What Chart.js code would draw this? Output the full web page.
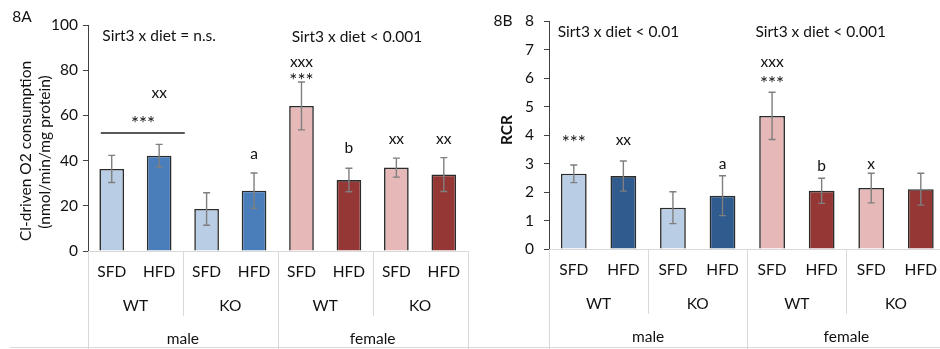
<!DOCTYPE html>
<html>
<head>
<meta charset="utf-8">
<script src="https://cdn.jsdelivr.net/npm/chart.js@4.4.1/dist/chart.umd.min.js"></script>
<style>
  html, body { margin: 0; padding: 0; background: #fff; overflow: hidden; }
  body { width: 940px; height: 349px; position: relative; }
  .box { position: absolute; top: 0; height: 349px; }
  #boxA { left: 0; width: 472px; }
  #boxB { left: 470px; width: 479px; }
</style>
</head>
<body>
<div class="box" id="boxA"><canvas id="chartA"></canvas></div>
<div class="box" id="boxB"><canvas id="chartB"></canvas></div>
<script>
// categories (three-level axis)
const diets = ['SFD', 'HFD', 'SFD', 'HFD', 'SFD', 'HFD', 'SFD', 'HFD'];
const genotypes = ['WT', 'KO', 'WT', 'KO'];
const sexes = ['male', 'female'];

// 8A: CI-driven O2 consumption
const cdValues = [36.3, 42.2, 18.6, 26.7, 64.2, 31.4, 36.9, 33.8];
const cdErrors = [6.0, 5.0, 7.2, 7.8, 10.6, 5.2, 4.2, 7.5];
const cdTicks = [0, 20, 40, 60, 80, 100];
// [category index, y value, text]
const cdMarks = [[0.66, 58, '***'], [1, 70, 'xx'], [3, 43, 'a'], [4, 83.6, 'xxx'], [4, 77, '***'],
                 [5, 45.6, 'b'], [6, 49.6, 'xx'], [7, 49.6, 'xx']];
const cdNotes = [[1.0, 95, 'Sirt3 x diet = n.s.'], [5.17, 94.7, 'Sirt3 x diet < 0.001']];
const cdBracket = [-0.23, 1.54, 52.2]; // from index, to index, y value

// 8B: RCR
const rcrValues = [2.64, 2.56, 1.45, 1.87, 4.67, 2.04, 2.14, 2.10];
const rcrErrors = [0.31, 0.53, 0.56, 0.70, 0.83, 0.44, 0.52, 0.56];
const rcrTicks = [0, 1, 2, 3, 4, 5, 6, 7, 8];
const rcrMarks = [[0, 3.86, '***'], [1, 3.82, 'xx'], [3, 2.98, 'a'], [4, 6.56, 'xxx'], [4, 5.93, '***'],
                  [5, 2.91, 'b'], [6, 2.98, 'x']];
const rcrNotes = [[0.9, 7.61, 'Sirt3 x diet < 0.01'], [4.98, 7.61, 'Sirt3 x diet < 0.001']];

const FONT = 'Lato';
const SIZE = 15.5;
const TEXT = '#111';

function text(ctx, str, x, y, opts) {
  opts = opts || {};
  ctx.save();
  ctx.font = (opts.weight || 'normal') + ' ' + (opts.size || SIZE) + 'px ' + FONT;
  ctx.fillStyle = TEXT;
  ctx.textAlign = 'center';
  ctx.textBaseline = 'middle';
  ctx.translate(x, y);
  if (opts.rotate) ctx.rotate(opts.rotate);
  ctx.fillText(str, 0, 0);
  ctx.restore();
}

const extras = {
  id: 'extras',
  afterDatasetsDraw(chart, args, o) {
    const {ctx, chartArea} = chart;
    const x = chart.scales.x, y = chart.scales.y;
    const vals = chart.data.datasets[0].data;
    ctx.save();

    // error bars
    ctx.strokeStyle = '#7f7f7f';
    ctx.lineWidth = 1.4;
    o.errors.forEach((e, i) => {
      const px = x.getPixelForValue(i);
      const t = y.getPixelForValue(vals[i] + e);
      const b = y.getPixelForValue(vals[i] - e);
      ctx.beginPath();
      ctx.moveTo(px, t); ctx.lineTo(px, b);
      ctx.moveTo(px - 3.5, t); ctx.lineTo(px + 3.5, t);
      ctx.moveTo(px - 3.5, b); ctx.lineTo(px + 3.5, b);
      ctx.stroke();
    });

    // significance bracket
    if (o.bracket) {
      const [a, b, v] = o.bracket;
      ctx.strokeStyle = '#222';
      ctx.lineWidth = 1.4;
      ctx.beginPath();
      ctx.moveTo(x.getPixelForValue(a), y.getPixelForValue(v));
      ctx.lineTo(x.getPixelForValue(b), y.getPixelForValue(v));
      ctx.stroke();
    }

    // significance letters and asterisks
    o.marks.forEach(([i, v, s]) => {
      const star = s.indexOf('*') >= 0;
      text(ctx, s, x.getPixelForValue(i), y.getPixelForValue(v) + (star ? 4 : 0), {size: star ? 19 : SIZE});
    });
    o.notes.forEach(([i, v, s]) => text(ctx, s, x.getPixelForValue(i), y.getPixelForValue(v)));

    // multi-level category axis
    const bottom = chartArea.bottom;
    const edge = k => x.getPixelForValue(k - 0.5);
    ctx.strokeStyle = '#d9d9d9';
    ctx.lineWidth = 1;
    [0, 2, 4, 6, 8].forEach(k => {
      const full = k % 4 === 0;
      const px = Math.round(edge(k)) + 0.5;
      ctx.beginPath();
      ctx.moveTo(px, bottom);
      ctx.lineTo(px, full ? chart.height : bottom + 65);
      ctx.stroke();
    });
    ctx.beginPath();
    ctx.moveTo(o.lineFrom, chart.height - 1.5);
    ctx.lineTo(chart.width, chart.height - 1.5);
    ctx.stroke();
    genotypes.forEach((g, j) => text(ctx, g, (edge(2 * j) + edge(2 * j + 2)) / 2, bottom + 55));
    sexes.forEach((s, j) => text(ctx, s, (edge(4 * j) + edge(4 * j + 4)) / 2, bottom + 88));

    // panel tag and y title
    text(ctx, o.tag[0], o.tag[1], o.tag[2]);
    o.title.forEach(([s, px, py, w]) => text(ctx, s, px, py, {rotate: -Math.PI / 2, weight: w}));
    ctx.restore();
  }
};

function makeChart(id, values, ticks, axisWidth, top, axisHeight, colors, plug, tickPad) {
  return new Chart(document.getElementById(id), {
    type: 'bar',
    data: {
      labels: diets,
      datasets: [{
        data: values,
        backgroundColor: colors,
        borderColor: '#2b2b2b',
        borderWidth: 1.6,
        borderSkipped: 'bottom',
        barPercentage: 0.52,
        categoryPercentage: 1
      }]
    },
    options: {
      responsive: true,
      maintainAspectRatio: false,
      animation: false,
      layout: { padding: { top: top, left: 0, right: 0, bottom: 0 } },
      plugins: { legend: { display: false }, tooltip: { enabled: false }, extras: plug },
      scales: {
        x: {
          grid: { display: false, drawTicks: false },
          border: { color: '#d9d9d9', width: 1 },
          ticks: { color: TEXT, font: { family: FONT, size: SIZE }, padding: 12, maxRotation: 0, autoSkip: false },
          afterFit: s => { s.height = axisHeight; }
        },
        y: {
          min: ticks[0],
          max: ticks[ticks.length - 1],
          afterBuildTicks: s => { s.ticks = ticks.map(v => ({value: v})); },
          grid: { drawOnChartArea: false, drawTicks: true, tickLength: 5, color: '#404040' },
          border: { color: '#404040', width: 1 },
          ticks: { color: TEXT, font: { family: FONT, size: SIZE }, padding: tickPad },
          afterFit: s => { s.width = axisWidth; }
        }
      }
    },
    plugins: [extras]
  });
}

const lightBlue = '#b9cde5', pink = '#e6b9b8', darkRed = '#953735';

document.fonts.load(SIZE + 'px Lato').then(() => {
  makeChart('chartA', cdValues, cdTicks, 88, 25, 98,
    [lightBlue, '#4a7ebb', lightBlue, '#4a7ebb', pink, darkRed, pink, darkRed],
    { errors: cdErrors, marks: cdMarks, notes: cdNotes, bracket: cdBracket, lineFrom: 10,
      tag: ['8A', 22, 17],
      title: [['Cl-driven O2 consumption', 26, 151], ['(nmol/min/mg protein)', 45, 152]] }, 5);
  makeChart('chartB', rcrValues, rcrTicks, 79, 21, 100,
    [lightBlue, '#2f5b8f', lightBlue, '#2f5b8f', pink, darkRed, pink, darkRed],
    { errors: rcrErrors, marks: rcrMarks, notes: rcrNotes, bracket: null, lineFrom: 0,
      tag: ['8B', 33, 21],
      title: [['RCR', 37, 130, 'bold']] }, 10);
});
</script>
</body>
</html>
